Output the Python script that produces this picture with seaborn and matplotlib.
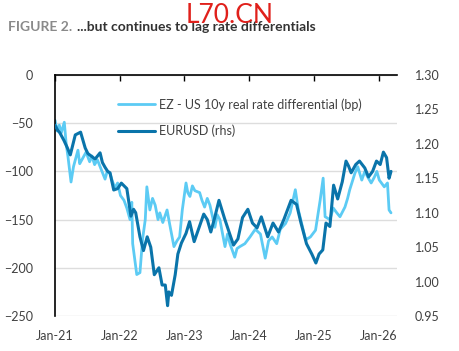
import pandas as pd
import seaborn as sns
import matplotlib.pyplot as plt
import matplotlib.dates as mdates

# EZ - US 10y real rate differential (bp)
diff_dates = ['2021-01-01', '2021-01-12', '2021-01-25', '2021-02-05', '2021-02-22', '2021-03-05',
              '2021-03-15', '2021-04-01', '2021-04-15', '2021-05-10', '2021-05-20', '2021-06-01',
              '2021-06-25', '2021-07-15', '2021-07-28', '2021-08-12', '2021-08-28', '2021-09-12',
              '2021-10-10', '2021-10-22', '2021-11-07', '2021-11-20', '2021-12-05', '2021-12-20',
              '2022-01-05', '2022-01-25', '2022-02-10', '2022-02-28', '2022-03-10', '2022-03-15',
              '2022-04-07', '2022-04-25', '2022-05-10', '2022-05-25', '2022-06-03', '2022-06-20',
              '2022-07-05', '2022-07-20', '2022-08-05', '2022-08-15', '2022-09-01', '2022-09-25',
              '2022-10-10', '2022-11-03', '2022-11-20', '2022-12-05', '2022-12-20', '2023-01-10',
              '2023-01-20', '2023-02-01', '2023-02-15', '2023-03-01', '2023-03-28', '2023-04-10',
              '2023-04-25', '2023-05-10', '2023-05-25', '2023-06-22', '2023-07-05', '2023-07-20',
              '2023-08-18', '2023-09-01', '2023-09-15', '2023-10-12', '2023-10-25', '2023-11-10',
              '2023-12-08', '2024-01-06', '2024-02-05', '2024-03-05', '2024-04-01', '2024-04-20',
              '2024-05-10', '2024-06-05', '2024-06-25', '2024-07-25', '2024-08-20', '2024-09-18',
              '2024-10-05', '2024-10-25', '2024-11-15', '2024-12-12', '2025-01-10', '2025-02-05',
              '2025-02-22', '2025-03-05', '2025-04-01', '2025-04-20', '2025-05-10', '2025-05-28',
              '2025-06-25', '2025-07-10', '2025-07-22', '2025-08-20', '2025-09-05', '2025-09-28',
              '2025-10-15', '2025-11-01', '2025-11-20', '2025-12-08', '2025-12-22', '2026-01-05',
              '2026-02-02', '2026-02-20', '2026-03-01', '2026-03-12']
diff_values = [-47, -58, -52, -60, -49, -72,
               -85, -111, -95, -78, -92, -88,
               -80, -90, -84, -93, -88, -95,
               -108, -100, -102, -110, -117, -112,
               -125, -130, -138, -150, -132, -175,
               -207, -205, -170, -150, -116, -140,
               -128, -135, -150, -143, -153, -140,
               -155, -178, -172, -168, -140, -112,
               -122, -126, -115, -120, -122, -130,
               -137, -128, -135, -158, -145, -150,
               -178, -165, -175, -189, -180, -178,
               -175, -168, -160, -165, -190, -172,
               -168, -175, -160, -154, -143, -119,
               -140, -155, -171, -168, -161, -130,
               -107, -147, -150, -138, -143, -147,
               -137, -128, -119, -102, -95, -109,
               -100, -106, -112, -106, -100, -109,
               -116, -112, -140, -143]

# EURUSD (rhs)
fx_dates = ['2021-01-01', '2021-01-15', '2021-01-28', '2021-02-20', '2021-03-10', '2021-03-28',
            '2021-04-25', '2021-05-25', '2021-06-20', '2021-07-05', '2021-07-20', '2021-08-15',
            '2021-09-12', '2021-09-25', '2021-10-10', '2021-10-25', '2021-11-07', '2021-11-28',
            '2021-12-20', '2022-01-10', '2022-02-10', '2022-03-05', '2022-03-20', '2022-04-01',
            '2022-04-25', '2022-05-15', '2022-06-05', '2022-06-25', '2022-07-15', '2022-08-10',
            '2022-08-28', '2022-09-15', '2022-09-28', '2022-10-05', '2022-10-20', '2022-11-10',
            '2022-11-25', '2022-12-15', '2023-01-10', '2023-01-30', '2023-02-25', '2023-03-20',
            '2023-04-20', '2023-05-10', '2023-05-30', '2023-06-20', '2023-07-15', '2023-08-15',
            '2023-09-10', '2023-10-05', '2023-10-30', '2023-11-25', '2023-12-25', '2024-01-20',
            '2024-02-15', '2024-03-10', '2024-04-15', '2024-05-15', '2024-06-15', '2024-07-15',
            '2024-08-25', '2024-09-25', '2024-10-20', '2024-11-20', '2024-12-20', '2025-01-12',
            '2025-01-30', '2025-02-20', '2025-03-10', '2025-04-01', '2025-04-22', '2025-05-15',
            '2025-06-10', '2025-07-01', '2025-07-15', '2025-07-30', '2025-08-25', '2025-09-15',
            '2025-10-15', '2025-11-05', '2025-11-28', '2025-12-20', '2026-01-10', '2026-01-28',
            '2026-02-15', '2026-03-01', '2026-03-12']
fx_values = [1.227, 1.220, 1.216, 1.205, 1.195, 1.184,
             1.213, 1.217, 1.194, 1.186, 1.183, 1.178,
             1.187, 1.173, 1.166, 1.160, 1.158, 1.133,
             1.135, 1.143, 1.135, 1.095, 1.105, 1.100,
             1.065, 1.045, 1.065, 1.050, 1.010, 1.020,
             0.995, 0.995, 0.965, 0.985, 0.980, 1.010,
             1.040, 1.056, 1.070, 1.087, 1.058, 1.075,
             1.098, 1.090, 1.072, 1.092, 1.118, 1.092,
             1.072, 1.053, 1.062, 1.093, 1.105, 1.085,
             1.078, 1.094, 1.065, 1.085, 1.072, 1.090,
             1.118, 1.112, 1.085, 1.055, 1.040, 1.027,
             1.040, 1.046, 1.085, 1.080, 1.140, 1.120,
             1.145, 1.175, 1.168, 1.158, 1.170, 1.175,
             1.165, 1.152, 1.160, 1.175, 1.170, 1.188,
             1.180, 1.150, 1.160]

left_ticks = [0, -50, -100, -150, -200, -250]
right_ticks = [0.95, 1.00, 1.05, 1.10, 1.15, 1.20, 1.25, 1.30]
x_ticks = ['2021-01-01', '2022-01-01', '2023-01-01', '2024-01-01', '2025-01-01', '2026-01-01']

light = '#5ccbf4'
dark = '#0a74aa'

sns.set_theme(style='white')
plt.rcParams['font.family'] = ['Lato', 'DejaVu Sans']

df1 = pd.DataFrame({'date': pd.to_datetime(diff_dates), 'v': diff_values})
df2 = pd.DataFrame({'date': pd.to_datetime(fx_dates), 'v': fx_values})

fig = plt.figure(figsize=(4.59, 3.51), dpi=100)
ax = fig.add_axes([0.120, 0.0997, 0.745, 0.6866])
ax2 = ax.twinx()

sns.lineplot(data=df1, x='date', y='v', ax=ax, color=light, linewidth=2.0,
             label='EZ - US 10y real rate differential (bp)', legend=False)
sns.lineplot(data=df2, x='date', y='v', ax=ax2, color=dark, linewidth=2.2,
             label='EURUSD (rhs)', legend=False)

ax.set_ylim(-250, 0)
ax2.set_ylim(0.95, 1.30)
ax.set_xlim(pd.Timestamp('2021-01-01'), pd.Timestamp('2026-04-15'))
ax.set_yticks(left_ticks)
ax2.set_yticks(right_ticks)
ax2.set_yticklabels([f'{t:.2f}' for t in right_ticks])
ax.set_xticks(pd.to_datetime(x_ticks))
ax.xaxis.set_major_formatter(mdates.DateFormatter('%b-%y'))
ax.set_xlabel('')
ax.set_ylabel('')
ax2.set_ylabel('')

# grid only horizontal
ax.yaxis.grid(True, color='#dddddd', linewidth=1)
ax.xaxis.grid(False)
ax.set_axisbelow(True)

for s in ['right', 'bottom']:
    ax.spines[s].set_visible(False)
for s in ['right', 'bottom', 'left', 'top']:
    ax2.spines[s].set_visible(False)
ax.spines['left'].set_color('black')
ax.spines['left'].set_linewidth(1.2)
ax.spines['top'].set_color('black')
ax.spines['top'].set_linewidth(1.2)

ax.tick_params(axis='x', top=True, bottom=False, labelbottom=True, labeltop=False,
               direction='in', length=4, width=1, color='black',
               labelsize=9, labelcolor='#404040', pad=10)
ax.tick_params(axis='y', left=False, labelsize=9, labelcolor='#404040', pad=10)
ax2.tick_params(axis='y', right=False, labelsize=9, labelcolor='#404040', pad=7)

handles = ax.get_lines()[:1] + ax2.get_lines()[:1]
labels = ['EZ - US 10y real rate differential (bp)', 'EURUSD (rhs)']
ax2.legend(handles, labels, loc='upper left', bbox_to_anchor=(0.15, 0.95), frameon=False,
           fontsize=9, handlelength=3.0, handletextpad=0.3, labelspacing=1.1,
           labelcolor='#404040')

fig.text(0.017, 0.922, 'FIGURE 2.', fontsize=10, fontweight='bold', color='#8a8a8a',
         va='center', ha='left')
fig.text(0.168, 0.922, '...but continues to lag rate differentials', fontsize=10,
         fontweight='bold', color='#333333', va='center', ha='left')
fig.text(0.50, 0.955, 'L70.CN', fontsize=19, color='#e0201b', va='center', ha='center')

fig.savefig('out.png', dpi=100)
